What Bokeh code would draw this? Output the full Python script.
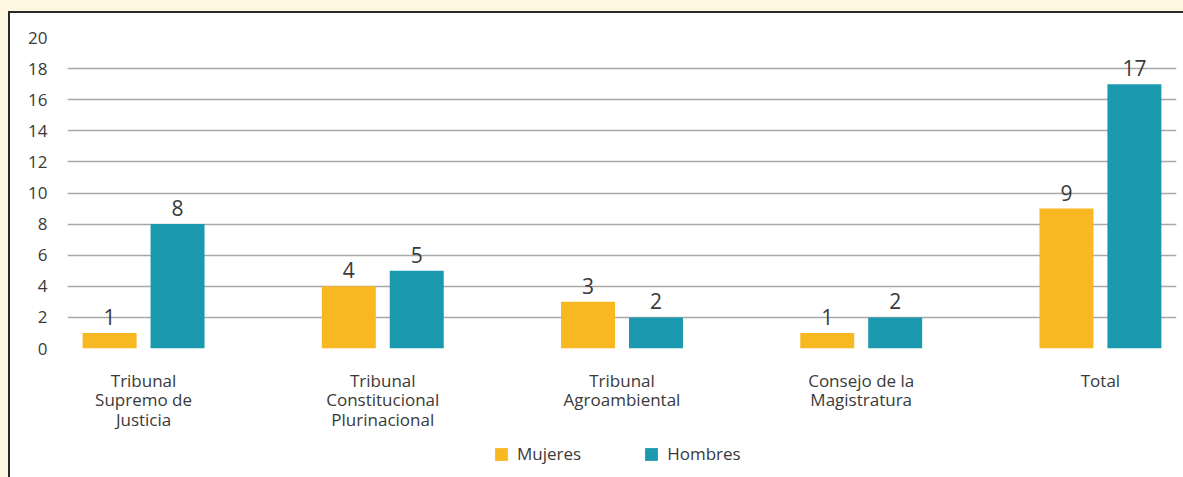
from bokeh.plotting import figure
from bokeh.layouts import column
from bokeh.models import (ColumnDataSource, Range1d, FixedTicker, Legend, LegendItem,
                          GlobalInlineStyleSheet)
from bokeh.transform import dodge
from bokeh.core.properties import value
from bokeh.embed import file_html
from bokeh.resources import INLINE

# ---- data ----
categories = ["Tribunal\nSupremo de\nJusticia",
              "Tribunal\nConstitucional\nPlurinacional",
              "Tribunal\nAgroambiental",
              "Consejo de la\nMagistratura",
              "Total"]
mujeres = [1, 4, 3, 1, 9]
hombres = [8, 5, 2, 2, 17]
y_ticks = [0, 2, 4, 6, 8, 10, 12, 14, 16, 18, 20]
series_names = ["Mujeres", "Hombres"]

# ---- styling ----
FONT = "Open Sans"
TXT = "#3a3a3a"
C_M = "#F8B822"
C_H = "#1B99AF"
CREAM = "#FDF6E1"
W = 1173

idx = list(range(len(categories)))
src = ColumnDataSource(dict(
    idx=idx, mujeres=mujeres, hombres=hombres,
    m_lbl=[str(v) for v in mujeres], h_lbl=[str(v) for v in hombres],
))

p = figure(width=W, height=425,
           x_range=Range1d(-0.318, len(categories) - 1 + 0.318),
           y_range=Range1d(0, 20),
           output_backend="svg", toolbar_location=None,
           min_border_left=57, min_border_right=7,
           min_border_top=24, min_border_bottom=90)

p.background_fill_color = "white"
p.border_fill_color = "white"
p.outline_line_color = None

bw = 0.2257
off = 0.142
r1 = p.vbar(x=dodge("idx", -off), top="mujeres", width=bw, source=src,
            fill_color=C_M, line_color=None)
r2 = p.vbar(x=dodge("idx", off), top="hombres", width=bw, source=src,
            fill_color=C_H, line_color=None)

for col, lbl, o in (("mujeres", "m_lbl", -off), ("hombres", "h_lbl", off)):
    p.text(x=dodge("idx", o), y=col, text=lbl, source=src,
           text_align="center", text_baseline="alphabetic", y_offset=-16,
           text_font=value(FONT), text_font_size="21px", text_color=TXT)

# grid
p.xgrid.grid_line_color = None
p.ygrid.grid_line_color = "#a8a8a8"
p.ygrid.grid_line_width = 1.5
p.ygrid.ticker = FixedTicker(ticks=y_ticks)

# y axis
p.yaxis.ticker = FixedTicker(ticks=y_ticks)
p.yaxis.axis_line_color = None
p.yaxis.major_tick_line_color = None
p.yaxis.minor_tick_line_color = None
p.yaxis.major_label_standoff = 14
p.yaxis.major_label_text_font = FONT
p.yaxis.major_label_text_font_size = "17px"
p.yaxis.major_label_text_color = TXT

# x axis
p.xaxis.ticker = FixedTicker(ticks=idx)
p.xaxis.major_label_overrides = {i: c for i, c in zip(idx, categories)}
p.xaxis.axis_line_color = None
p.xaxis.major_tick_line_color = None
p.xaxis.minor_tick_line_color = None
p.xaxis.major_label_standoff = 14
p.xaxis.major_label_text_font = FONT
p.xaxis.major_label_text_font_size = "17px"
p.xaxis.major_label_text_color = TXT
p.xaxis.major_label_text_line_height = 0.86

# ---- legend strip ----
lg = figure(width=W, height=39, x_range=Range1d(0, 1), y_range=Range1d(0, 1),
            output_backend="svg", toolbar_location=None,
            x_axis_location=None, y_axis_location=None,
            min_border_left=0, min_border_right=0, min_border_top=0, min_border_bottom=0)
lg.grid.visible = False
lg.outline_line_color = None
lg.background_fill_color = "white"
lg.border_fill_color = "white"
pm = lg.vbar(x=[-10], top=[0], width=0.1, fill_color=C_M, line_color=None)
ph = lg.vbar(x=[-10], top=[0], width=0.1, fill_color=C_H, line_color=None)

legend = Legend(items=[LegendItem(label=series_names[0], renderers=[pm]),
                       LegendItem(label=series_names[1], renderers=[ph])],
                orientation="horizontal", location=(426, 12),
                spacing=62, glyph_width=16, glyph_height=16, label_standoff=8,
                label_text_font=FONT, label_text_font_size="17px",
                label_text_color=TXT, border_line_color=None,
                background_fill_alpha=0, padding=0, margin=0)
lg.add_layout(legend, "center")

layout = column(p, lg, spacing=0,
                styles={"margin-top": "11px", "margin-left": "8px",
                        "border-top": "2px solid #2a2a2a",
                        "border-left": "2px solid #2a2a2a",
                        "background": "white"},
                stylesheets=[GlobalInlineStyleSheet(
                    css=f"body {{ background: {CREAM}; overflow: hidden; }}")])

open("out.html", "w").write(file_html(layout, INLINE))
